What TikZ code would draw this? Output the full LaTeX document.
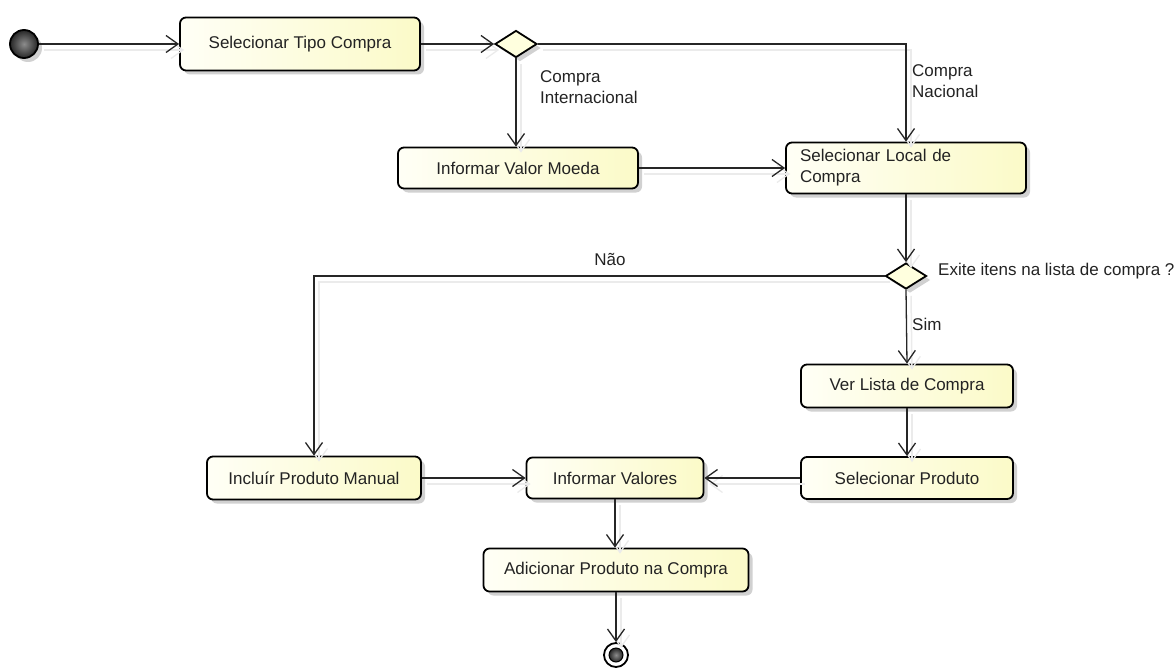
\documentclass[tikz,border=0pt]{standalone}
\usepackage{fontspec}
\setmainfont{Liberation Sans}
\usetikzlibrary{arrows.meta,shapes.geometric,shadows}
\definecolor{boxL}{RGB}{255,255,246}
\definecolor{boxR}{RGB}{251,250,200}
\definecolor{dia}{RGB}{255,255,222}
\definecolor{txt}{RGB}{35,35,35}
\begin{document}
\begin{tikzpicture}[x=1pt,y=-1pt,
  font=\fontsize{17}{21}\selectfont, text=txt,
  box/.style={draw=black, line width=1.8pt, rounded corners=6pt,
    left color=boxL, right color=boxR, align=center,
    drop shadow={shadow xshift=4pt, shadow yshift=-4pt, fill=black!30, opacity=0.6}},
  dec/.style={draw=black, line width=1.8pt, diamond, fill=dia, inner sep=0pt,
    minimum width=42pt, minimum height=27pt,
    drop shadow={shadow xshift=4pt, shadow yshift=-4pt, fill=black!30, opacity=0.6}},
  edge/.style={draw=black!85, line width=1.3pt, -{Straight Barb[length=12pt,width=17pt,line width=1.3pt]},
    preaction={draw=black!8, line width=1.5pt, transform canvas={shift={(5pt,-6pt)}}}},
  lbl/.style={align=left, inner sep=0pt, anchor=north west}
]
\useasboundingbox (0,0) rectangle (1174,671);

% start
\node[circle, draw=black, line width=1.8pt, minimum size=28pt, inner sep=0pt,
  shading=radial, inner color=black!45, outer color=black!85,
  drop shadow={shadow xshift=4pt, shadow yshift=-4pt, fill=black!30, opacity=0.6}] (start) at (24,44) {};

\node[box, minimum width=240pt, minimum height=53pt] (b1) at (300,44) {Selecionar Tipo Compra};
\node[dec] (d1) at (516,44) {};
\node[box, minimum width=240pt, minimum height=41pt] (ivm) at (518,168) {Informar Valor Moeda};
\node[box, minimum width=240pt, minimum height=51pt, align=left, text width=212pt] (sl) at (906,168) {Selecionar Local de\\Compra};
\node[dec, minimum width=41pt, minimum height=26pt] (d2) at (906,276) {};
\node[box, minimum width=212pt, minimum height=43pt] (vl) at (907,386) {Ver Lista de Compra};
\node[box, minimum width=212pt, minimum height=42pt] (sp) at (907,478) {Selecionar Produto};
\node[box, minimum width=214pt, minimum height=43pt] (inc) at (314,478) {Incluír Produto Manual};
\node[box, minimum width=177pt, minimum height=41pt] (iv) at (615,478) {Informar Valores};
\node[box, minimum width=265pt, minimum height=43pt] (ad) at (616,570) {Adicionar Produto na Compra};

% final
\node[circle, draw=black, line width=1.8pt, fill=white, minimum size=24pt, inner sep=0pt] (fin) at (616,655) {};
\node[circle, draw=black, line width=1pt, minimum size=14pt, inner sep=0pt,
  shading=radial, inner color=black!45, outer color=black!85] (finin) at (fin.center) {};

% labels
\node[lbl] (lci) at (540,70) {Compra\\Internacional};
\node[lbl] (lcn) at (912,64) {Compra\\Nacional};
\node[inner sep=0pt] (lnao) at (610,259) {Não};
\node[lbl, anchor=west] (lq) at (938,271) {Exite itens na lista de compra ?};
\node[lbl, anchor=west] (lsim) at (912,324) {Sim};

% edges
\draw[edge] (start) -- (b1);
\draw[edge] (b1) -- (d1);
\draw[edge] (d1.south) -- (d1.south |- ivm.north);
\draw[edge] (d1.east) -| (sl.north);
\draw[edge] (ivm.east) -- (ivm.east -| sl.west);
\draw[edge] (sl.south) -- (d2.north);
\draw[edge] (d2.west) -| (inc.north);
\draw[edge] (d2.south) -- (vl.north);
\draw[edge] (vl) -- (sp);
\draw[edge] (sp) -- (iv);
\draw[edge] (inc) -- (iv);
\draw[edge] (iv.south) -- (iv.south |- ad.north);
\draw[edge] (ad) -- (fin);
\end{tikzpicture}
\end{document}
